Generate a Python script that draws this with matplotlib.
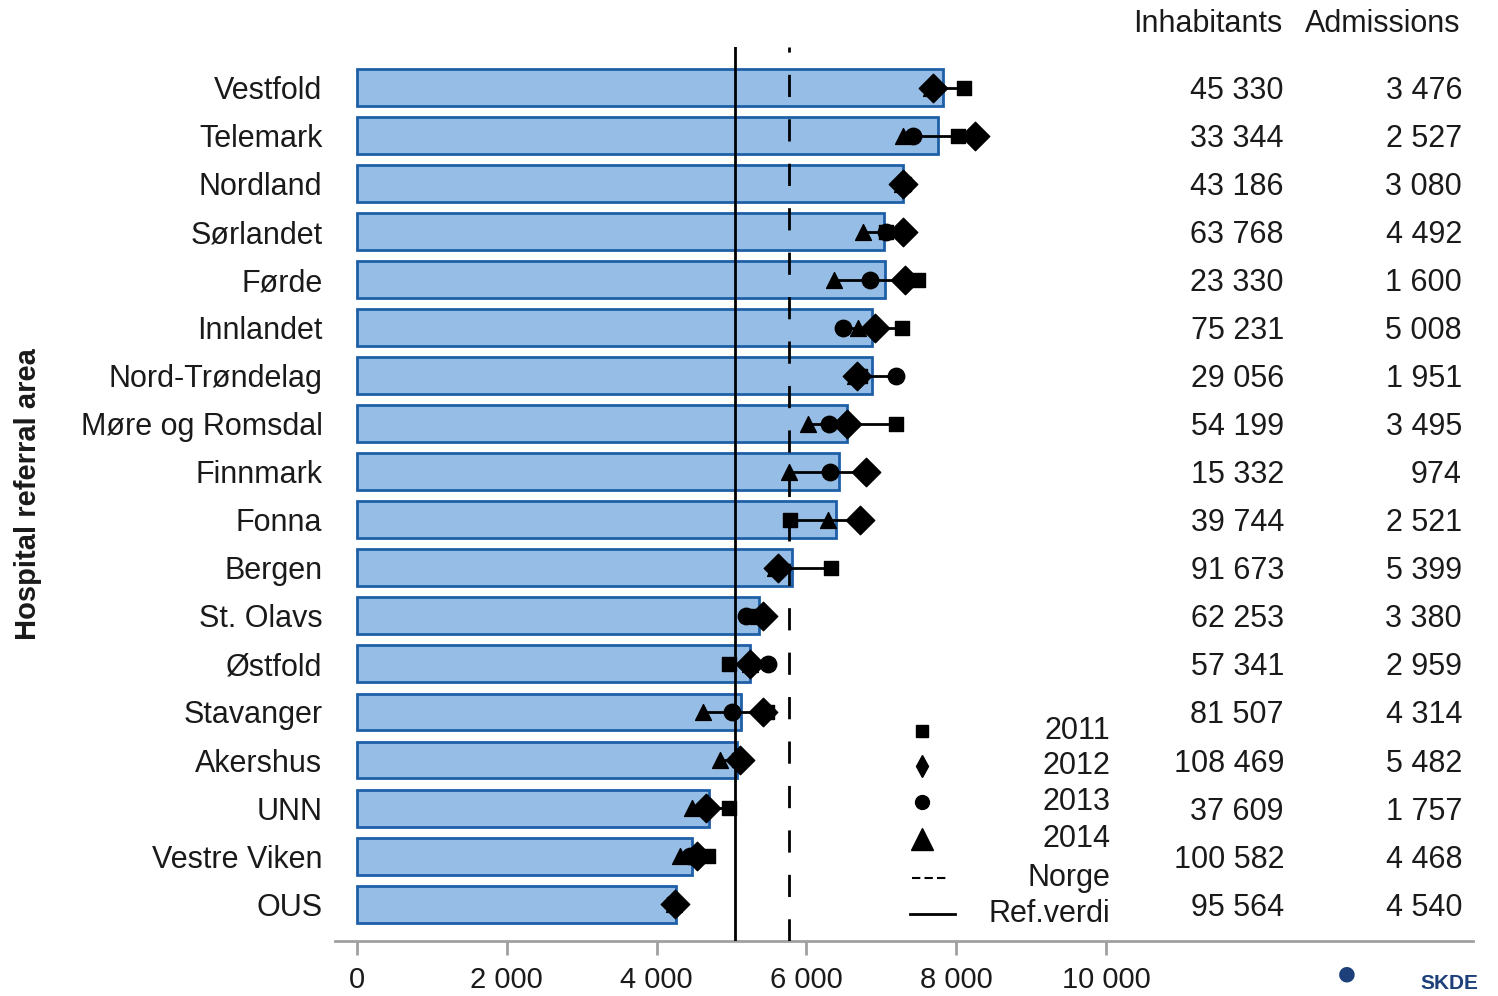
import matplotlib
matplotlib.use("Agg")
import matplotlib.pyplot as plt
from matplotlib.transforms import blended_transform_factory

plt.rcParams['font.family'] = ['Liberation Sans', 'DejaVu Sans']

######data######
areas = ["Vestfold", "Telemark", "Nordland", "Sørlandet", "Førde", "Innlandet",
         "Nord-Trøndelag", "Møre og Romsdal", "Finnmark", "Fonna", "Bergen",
         "St. Olavs", "Østfold", "Stavanger", "Akershus", "UNN", "Vestre Viken", "OUS"]
rate = [7830, 7760, 7290, 7040, 7045, 6870, 6870, 6540, 6430, 6400, 5810,
        5370, 5250, 5130, 5080, 4700, 4470, 4260]
r2011 = [8100, 8030, 7300, 7060, 7490, 7280, 6720, 7200, 6790, 5780, 6330,
         5300, 4970, 5480, 5100, 4970, 4690, 4230]
r2012 = [7690, 8250, 7290, 7290, 7320, 6920, 6680, 6540, 6800, 6720, 5620,
         5420, 5250, 5420, 5110, 4660, 4540, 4250]
r2013 = [7700, 7420, 7300, 7060, 6850, 6490, 7200, 6300, 6320, 6720, 5600,
         5200, 5490, 5010, 5100, 4640, 4450, 4230]
r2014 = [7660, 7290, 7280, 6760, 6370, 6690, 6650, 6020, 5770, 6290, 5580,
         5350, 5250, 4620, 4850, 4470, 4310, 4230]
inhabitants = [45330, 33344, 43186, 63768, 23330, 75231, 29056, 54199, 15332,
               39744, 91673, 62253, 57341, 81507, 108469, 37609, 100582, 95564]
admissions = [3476, 2527, 3080, 4492, 1600, 5008, 1951, 3495, 974, 2521, 5399,
              3380, 2959, 4314, 5482, 1757, 4468, 4540]
norge = 5770
ref_verdi = 5050
xticks = [0, 2000, 4000, 6000, 8000, 10000]


def fmt(v):
    return f"{v:,}".replace(",", " ")


txt = '#1a1a1a'
fs = 22
fig = plt.figure(figsize=(14.98, 9.96), dpi=100)
ax = fig.add_axes([0.2236, 0.0552, 0.7597, 0.8976])

y = list(range(len(areas)))
ax.barh(y, rate, height=0.77, color='#96bde6', edgecolor='#1f5fa8', linewidth=2, zorder=2)

ax.axvline(ref_verdi, color='black', lw=2, zorder=3)
ax.axvline(norge, color='black', lw=2, linestyle=(0, (8, 8)), zorder=3)

###range line + yearly markers###
for i in y:
    vals = [r2011[i], r2012[i], r2013[i], r2014[i]]
    ax.plot([min(vals), max(vals)], [i, i], color='black', lw=2, zorder=4)
ax.scatter(r2011, y, marker='s', s=100, color='black', zorder=5)
ax.scatter(r2013, y, marker='o', s=140, color='black', zorder=5)
ax.scatter(r2014, y, marker='^', s=130, color='black', zorder=5)
ax.scatter(r2012, y, marker='D', s=210, color='black', zorder=6)

ax.set_xlim(-294, 14900)
ax.set_ylim(17.77, -0.85)
ax.set_yticks(y)
ax.set_yticklabels(areas, fontsize=fs, color=txt, va='center_baseline')
ax.tick_params(axis='y', length=0, pad=9)
ax.set_xticks(xticks)
ax.set_xticklabels([fmt(v) for v in xticks], fontsize=fs - 1, color=txt)
ax.tick_params(axis='x', length=10, width=2, color='#a0a0a0', pad=8)
for s in ['top', 'right', 'left']:
    ax.spines[s].set_visible(False)
ax.spines['bottom'].set_color('#a0a0a0')
ax.spines['bottom'].set_linewidth(2)
ax.set_ylabel('Hospital referral area', fontsize=21, fontweight='bold', color=txt)
ax.yaxis.set_label_coords(-0.257, 0.5)

###table columns###
tr = blended_transform_factory(fig.transFigure, ax.transData)
for i in y:
    ax.text(1284 / 1498, i, fmt(inhabitants[i]), transform=tr, ha='right', va='center_baseline',
            fontsize=fs, color=txt)
    ax.text(1462 / 1498, i, fmt(admissions[i]), transform=tr, ha='right', va='center_baseline',
            fontsize=fs, color=txt)
fig.text(1282 / 1498, 1 - 24 / 996, 'Inhabitants', ha='right', va='center', fontsize=fs, color=txt)
fig.text(1460 / 1498, 1 - 24 / 996, 'Admissions', ha='right', va='center', fontsize=fs, color=txt)

###legend drawn by hand###
leg_labels = ['2011', '2012', '2013', '2014', 'Norge', 'Ref.verdi']
leg_y = [731, 766, 802, 839, 878, 914]
leg_mk = ['s', 'd', 'o', '^']
leg_ms = [9, 11, 10, 16]
for k, lab in enumerate(leg_labels):
    yy = 1 - leg_y[k] / 996
    if k < 4:
        fig.lines.append(plt.Line2D([922 / 1498], [yy], marker=leg_mk[k], markersize=leg_ms[k],
                                    color='black', linestyle='none', transform=fig.transFigure))
    elif lab == 'Norge':
        fig.lines.append(plt.Line2D([912 / 1498, 948 / 1498], [yy, yy], color='black', lw=1.5,
                                    linestyle=(0, (4, 2)), transform=fig.transFigure))
    else:
        fig.lines.append(plt.Line2D([910 / 1498, 955 / 1498], [yy, yy], color='black', lw=2,
                                    transform=fig.transFigure))
    fig.text(1110 / 1498, yy, lab, ha='right', va='center', fontsize=fs, color=txt)

###logo fragment###
fig.text(1347 / 1498, 1 - 975 / 996, '●', ha='center', va='center', fontsize=26, color='#1d3f7a')
fig.text(1420 / 1498, 0.003, 'SKDE', ha='left', va='bottom', fontsize=15, fontweight='bold',
         color='#1d3f7a')

fig.savefig('out.png', dpi=100)
